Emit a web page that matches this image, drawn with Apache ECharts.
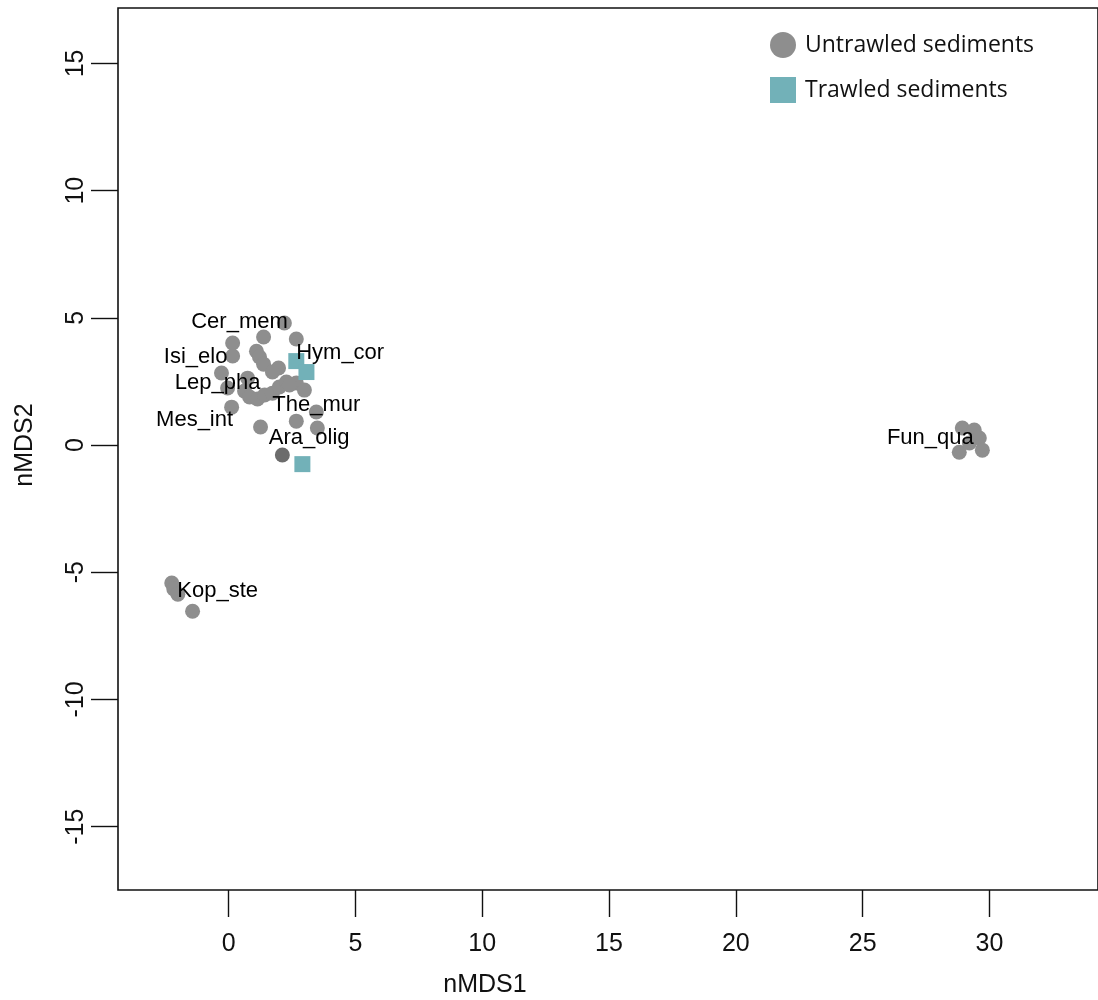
<!DOCTYPE html>
<html>
<head>
<meta charset="utf-8">
<script src="https://cdn.jsdelivr.net/npm/echarts@6/dist/echarts.min.js"></script>
<style>html,body{margin:0;padding:0;background:#fff}#c{width:1098px;height:1000px}</style>
</head>
<body>
<div id="c"></div>
<script>
// ---- data ----
const untrawledX = [2.20, 2.67, 1.38, 0.16, 0.16, 1.10, 1.22, 1.38, 1.97, -0.28, 0.12, 1.26, 2.67, 3.46, 3.50,
  -0.04, 0.63, 0.83, 1.14, 1.42, 1.73, 2.00, 2.28, 2.67, 2.99, 2.40, 0.75, 1.73,
  28.93, 29.40, 29.60, 29.72, 28.81, 29.21,
  -2.24, -2.16, -2.00, -1.42];
const untrawledY = [4.80, 4.17, 4.25, 4.01, 3.50, 3.69, 3.46, 3.18, 3.03, 2.83, 1.49, 0.71, 0.94, 1.30, 0.67,
  2.24, 2.12, 1.89, 1.81, 1.97, 2.04, 2.28, 2.48, 2.44, 2.16, 2.36, 2.63, 2.87,
  0.67, 0.59, 0.28, -0.20, -0.28, 0.08,
  -5.42, -5.66, -5.86, -6.53];
const darkX = [2.12];
const darkY = [-0.39];
const trawledX = [2.67, 3.07, 2.91];
const trawledY = [3.30, 2.87, -0.75];
const speciesNames = ['Cer_mem', 'Isi_elo', 'Hym_cor', 'Lep_pha', 'The_mur', 'Mes_int', 'Ara_olig', 'Fun_qua', 'Kop_ste'];
const speciesX = [0.43, -1.30, 4.40, -0.43, 3.46, -1.34, 3.18, 27.67, -0.43];
const speciesY = [4.83, 3.46, 3.62, 2.44, 1.57, 0.98, 0.28, 0.28, -5.74];
const xTicks = [0, 5, 10, 15, 20, 25, 30];
const yTicks = [-15, -10, -5, 0, 5, 10, 15];
const seriesNames = ['Untrawled sediments', 'Trawled sediments'];

const pairs = (xs, ys) => xs.map((x, i) => [x, ys[i]]);
const chart = echarts.init(document.getElementById('c'), null, {renderer: 'canvas'});
const tickFont = 'Liberation Sans, Arial, Helvetica, sans-serif';

chart.setOption({
  animation: false,
  backgroundColor: '#fff',
  grid: {left: 118, top: 8, right: -3, bottom: 110, show: true, borderColor: '#111', borderWidth: 1.6, backgroundColor: 'transparent'},
  xAxis: {
    type: 'value', min: -4.36, max: 34.28,
    axisLine: {show: false, onZero: false},
    splitLine: {show: false},
    axisTick: {show: true, inside: false, length: 27, customValues: xTicks, lineStyle: {color: '#111', width: 1.4}},
    axisLabel: {show: true, customValues: xTicks, margin: 42, fontSize: 25, color: '#111', fontFamily: tickFont}
  },
  yAxis: {
    type: 'value', min: -17.49, max: 17.18,
    axisLine: {show: false, onZero: false},
    splitLine: {show: false},
    axisTick: {show: true, inside: false, length: 27, customValues: yTicks, lineStyle: {color: '#111', width: 1.4}},
    axisLabel: {show: true, customValues: yTicks, rotate: 90, margin: 29, fontSize: 25, color: '#111', fontFamily: tickFont}
  },
  legend: {
    data: [{name: seriesNames[0], icon: 'circle'}, {name: seriesNames[1], icon: 'rect'}],
    orient: 'vertical', left: 765, top: 27, itemWidth: 26, itemHeight: 26, itemGap: 19,
    textStyle: {fontSize: 23, color: '#111', fontFamily: 'Open Sans, Noto Sans, sans-serif', padding: [0, 0, 0, 4]}
  },
  graphic: [
    {type: 'text', x: 485, y: 985, style: {text: 'nMDS1', font: '25px Liberation Sans', fill: '#111', textAlign: 'center', textVerticalAlign: 'middle'}},
    {type: 'text', x: 25, y: 445, rotation: Math.PI / 2, style: {text: 'nMDS2', font: '25px Liberation Sans', fill: '#111', textAlign: 'center', textVerticalAlign: 'middle'}}
  ],
  series: [
    {name: seriesNames[0], type: 'scatter', symbol: 'circle', symbolSize: 15, z: 2,
      itemStyle: {color: '#8e8e8e', opacity: 1}, data: pairs(untrawledX, untrawledY)},
    {name: 'dark', type: 'scatter', symbol: 'circle', symbolSize: 15, z: 2,
      itemStyle: {color: '#6c6c6c', opacity: 1}, data: pairs(darkX, darkY)},
    {name: seriesNames[1], type: 'scatter', symbol: 'rect', symbolSize: 16, z: 3,
      itemStyle: {color: '#72b1b8', opacity: 1}, data: pairs(trawledX, trawledY)},
    {name: 'labels', type: 'scatter', symbolSize: 0, z: 4, silent: true,
      itemStyle: {opacity: 1},
      label: {show: true, position: 'inside', formatter: p => p.name, fontSize: 22, color: '#000', fontFamily: tickFont},
      data: speciesNames.map((n, i) => ({name: n, value: [speciesX[i], speciesY[i]]}))}
  ]
});
</script>
</body>
</html>
